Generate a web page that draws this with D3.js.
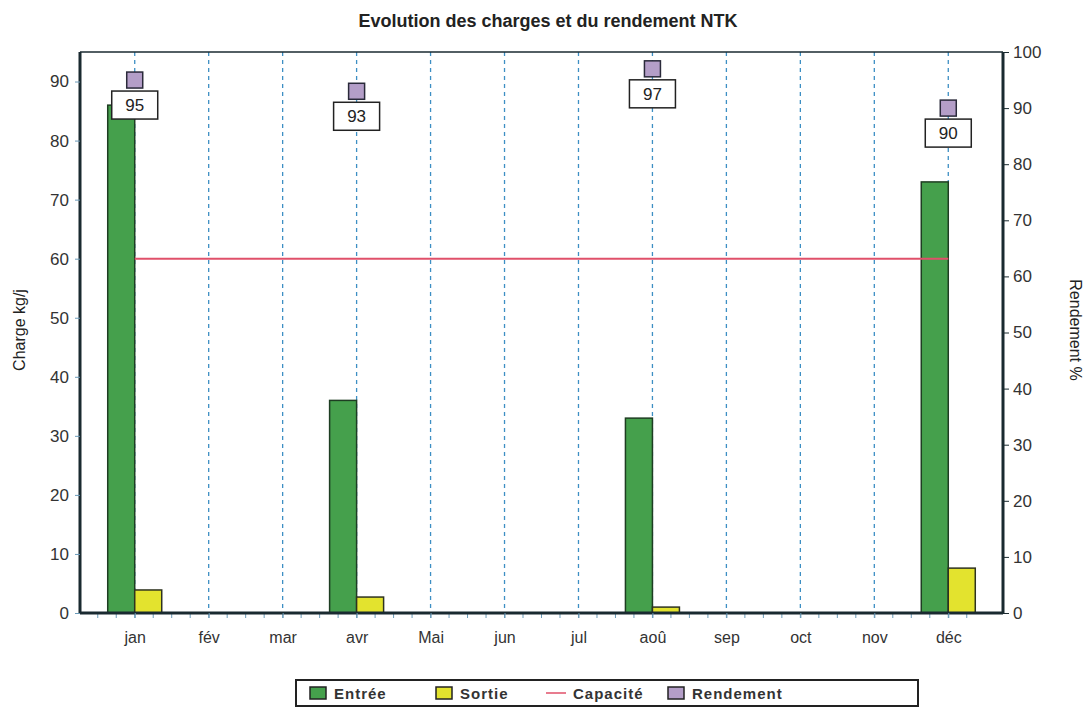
<!DOCTYPE html>
<html>
<head>
<meta charset="utf-8">
<script src="https://cdn.jsdelivr.net/npm/d3@7"></script>
<style>
  body { margin: 0; background: #fff; }
  svg { font-family: "Liberation Sans", Arial, sans-serif; }
</style>
</head>
<body>
<svg id="chart" width="1092" height="711"></svg>
<script>
// ---- data ----
const months = ["jan", "fév", "mar", "avr", "Mai", "jun", "jul", "aoû", "sep", "oct", "nov", "déc"];
const entree = [86, 0, 0, 36, 0, 0, 0, 33, 0, 0, 0, 73];
const sortie = [3.9, 0, 0, 2.7, 0, 0, 0, 1.0, 0, 0, 0, 7.6];
const capacite = [60, 60, 60, 60, 60, 60, 60, 60, 60, 60, 60, 60];
const rendement = [95, null, null, 93, null, null, null, 97, null, null, null, 90];
const leftTicks = [0, 10, 20, 30, 40, 50, 60, 70, 80, 90];
const rightTicks = [0, 10, 20, 30, 40, 50, 60, 70, 80, 90, 100];

const rows = months.map((m, i) => ({
  month: m, entree: entree[i], sortie: sortie[i], capacite: capacite[i], rendement: rendement[i]
}));

// ---- layout ----
const svg = d3.select("#chart");
const pLeft = 80, pRight = 1003, pTop = 52, pBottom = 613;
const textCol = "#333";

const x = d3.scalePoint().domain(months).range([pLeft, pRight]).padding(0.74);
const yL = d3.scaleLinear().domain([0, 95]).range([pBottom, pTop]);
const yR = d3.scaleLinear().domain([0, 100]).range([pBottom, pTop]);
const barW = 27;

// title
svg.append("text")
  .attr("x", 548).attr("y", 27)
  .attr("text-anchor", "middle")
  .style("font-size", "18px").style("font-weight", "bold").style("fill", "#222")
  .text("Evolution des charges et du rendement NTK");

// vertical dashed grid
svg.append("g").selectAll("line")
  .data(months).enter().append("line")
  .attr("x1", d => x(d)).attr("x2", d => x(d))
  .attr("y1", pTop).attr("y2", pBottom)
  .attr("stroke", "#3d8fc4").attr("stroke-width", 1.3)
  .attr("stroke-dasharray", "4,4");

// minor ticks under the x axis
const step = x.step();
const minor = [];
months.forEach(m => { for (let k = -2; k < 2; k++) minor.push(x(m) + k * step / 4); });
svg.append("g").selectAll("line")
  .data(minor.filter(v => v > pLeft && v < pRight)).enter().append("line")
  .attr("x1", d => d).attr("x2", d => d)
  .attr("y1", pBottom).attr("y2", pBottom + 5)
  .attr("stroke", "#6a9ab8").attr("stroke-width", 1);

// bars
svg.append("g").selectAll("rect")
  .data(rows.filter(d => d.entree > 0)).enter().append("rect")
  .attr("x", d => x(d.month) - barW).attr("width", barW)
  .attr("y", d => yL(d.entree)).attr("height", d => pBottom - yL(d.entree))
  .attr("fill", "#45a04c").attr("stroke", "#1e3d22").attr("stroke-width", 1.5);

svg.append("g").selectAll("rect")
  .data(rows.filter(d => d.sortie > 0)).enter().append("rect")
  .attr("x", d => x(d.month)).attr("width", barW)
  .attr("y", d => yL(d.sortie)).attr("height", d => pBottom - yL(d.sortie))
  .attr("fill", "#e3e32e").attr("stroke", "#2e3320").attr("stroke-width", 1.5);

// capacité line
svg.append("path")
  .datum(rows)
  .attr("fill", "none").attr("stroke", "#e0506a").attr("stroke-width", 2)
  .attr("d", d3.line().x(d => x(d.month)).y(d => yL(d.capacite)));

// frame top
svg.append("line").attr("x1", pLeft).attr("x2", pRight).attr("y1", pTop).attr("y2", pTop)
  .attr("stroke", "#1a2a30").attr("stroke-width", 1.5);

// left axis
const axL = svg.append("g").attr("transform", `translate(${pLeft},0)`)
  .call(d3.axisLeft(yL).tickValues(leftTicks).tickSize(5).tickPadding(6));
axL.select(".domain").attr("stroke", "#1a2a30").attr("stroke-width", 3)
  .attr("d", `M0,${pBottom}V${pTop}`);
axL.selectAll(".tick line").attr("stroke", "#6a9ab8");
axL.selectAll("text").style("font-size", "17px").style("fill", textCol);

// right axis
const axR = svg.append("g").attr("transform", `translate(${pRight},0)`)
  .call(d3.axisRight(yR).tickValues(rightTicks).tickSize(6).tickPadding(4));
axR.select(".domain").attr("stroke", "#1a2a30").attr("stroke-width", 3)
  .attr("d", `M0,${pBottom}V${pTop}`);
axR.selectAll(".tick line").attr("stroke", "#1a2a30");
axR.selectAll("text").style("font-size", "17px").style("fill", textCol);

// bottom axis
const axB = svg.append("g").attr("transform", `translate(0,${pBottom})`)
  .call(d3.axisBottom(x).tickSize(5).tickPadding(14));
axB.select(".domain").attr("stroke", "#1a2a30").attr("stroke-width", 3)
  .attr("d", `M${pLeft},0H${pRight}`);
axB.selectAll(".tick line").attr("stroke", "#6a9ab8");
axB.selectAll("text").style("font-size", "16px").style("fill", textCol);

// axis titles
svg.append("text")
  .attr("transform", "translate(25,330) rotate(-90)")
  .attr("text-anchor", "middle")
  .style("font-size", "16px").style("fill", "#222")
  .text("Charge kg/j");
svg.append("text")
  .attr("transform", "translate(1070,330) rotate(90)")
  .attr("text-anchor", "middle")
  .style("font-size", "16px").style("fill", "#222")
  .text("Rendement %");

// rendement markers + labels
const rend = rows.filter(d => d.rendement != null);
const mk = svg.append("g").selectAll("g").data(rend).enter().append("g")
  .attr("transform", d => `translate(${x(d.month)},${yR(d.rendement)})`);
mk.append("rect")
  .attr("x", -8).attr("y", -8).attr("width", 16).attr("height", 16)
  .attr("fill", "#b49ec8").attr("stroke", "#2a2a3a").attr("stroke-width", 1.5);
mk.append("rect")
  .attr("x", -23).attr("y", 11).attr("width", 46).attr("height", 28)
  .attr("fill", "#fff").attr("stroke", "#222").attr("stroke-width", 1.5);
mk.append("text")
  .attr("x", 0).attr("y", 31)
  .attr("text-anchor", "middle")
  .style("font-size", "17px").style("fill", "#222")
  .text(d => d.rendement);

// legend
const lg = svg.append("g").attr("transform", "translate(296,680)");
lg.append("rect").attr("width", 622).attr("height", 26)
  .attr("fill", "#fff").attr("stroke", "#222").attr("stroke-width", 2);
const legendItems = [
  { label: "Entrée", type: "box", color: "#45a04c", x: 14 },
  { label: "Sortie", type: "box", color: "#e3e32e", x: 140 },
  { label: "Capacité", type: "line", color: "#e0506a", x: 250 },
  { label: "Rendement", type: "box", color: "#b49ec8", x: 372 }
];
const li = lg.selectAll("g.item").data(legendItems).enter().append("g")
  .attr("class", "item").attr("transform", d => `translate(${d.x},0)`);
li.filter(d => d.type === "box").append("rect")
  .attr("x", 0).attr("y", 7).attr("width", 16).attr("height", 12)
  .attr("fill", d => d.color).attr("stroke", "#222").attr("stroke-width", 1.5);
li.filter(d => d.type === "line").append("line")
  .attr("x1", 0).attr("x2", 20).attr("y1", 13).attr("y2", 13)
  .attr("stroke", d => d.color).attr("stroke-width", 1.5);
li.append("text")
  .attr("x", d => d.type === "line" ? 27 : 24).attr("y", 19)
  .style("font-size", "15px").style("font-weight", "bold").style("fill", "#333")
  .style("letter-spacing", "1px")
  .text(d => d.label);
</script>
</body>
</html>
